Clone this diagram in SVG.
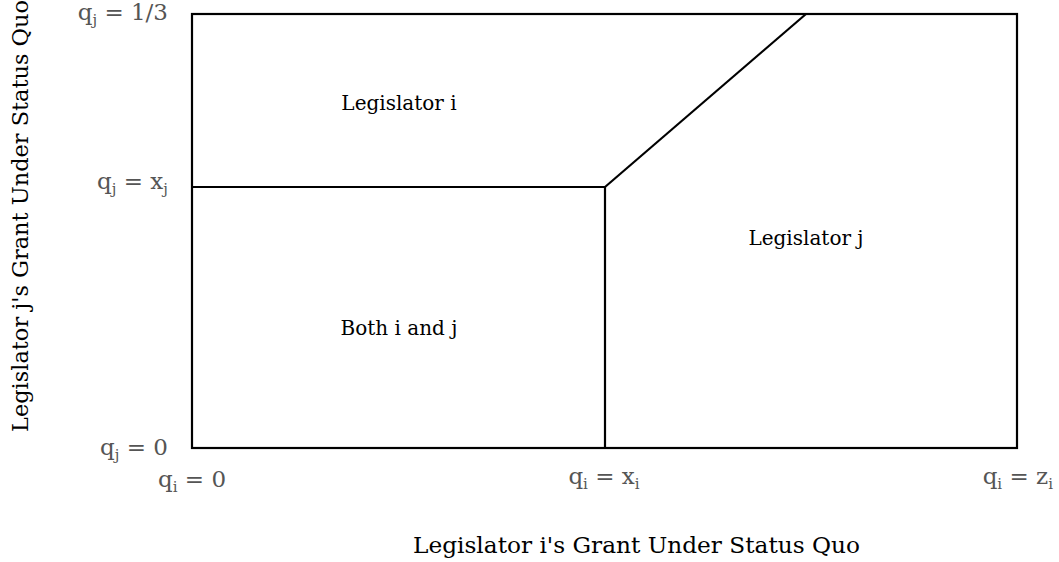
<svg xmlns="http://www.w3.org/2000/svg" width="1059" height="562" viewBox="0 0 1059 562">
<style>
.tick{font-family:"DejaVu Serif","Liberation Serif",serif;font-size:23px;fill:#555}
.sub{font-size:15px}
.reg{font-family:"DejaVu Serif","Liberation Serif",serif;font-size:20px;fill:#000}
.ax{font-family:"DejaVu Serif","Liberation Serif",serif;font-size:22px;fill:#000}
.ln{stroke:#000;stroke-width:2.2;fill:none}
</style>
<rect width="1059" height="562" fill="#fff"/>
<g id="connectors">
<rect class="ln" x="192" y="14" width="825" height="434"/>
<line class="ln" x1="192" y1="187" x2="605" y2="187"/>
<line class="ln" x1="605" y1="187" x2="605" y2="448"/>
<line class="ln" x1="605" y1="187" x2="806" y2="14"/>
</g>
<g id="ticks-y">
<text class="tick" x="168" y="20" text-anchor="end">q<tspan class="sub" dy="5">j</tspan><tspan dy="-5"> = 1/3</tspan></text>
<text class="tick" x="168" y="189" text-anchor="end">q<tspan class="sub" dy="5">j</tspan><tspan dy="-5"> = x</tspan><tspan class="sub" dy="5">j</tspan></text>
<text class="tick" x="168" y="455" text-anchor="end">q<tspan class="sub" dy="5">j</tspan><tspan dy="-5"> = 0</tspan></text>
</g>
<g id="ticks-x">
<text class="tick" x="158" y="487">q<tspan class="sub" dy="5">i</tspan><tspan dy="-5"> = 0</tspan></text>
<text class="tick" x="604" y="484" text-anchor="middle">q<tspan class="sub" dy="5">i</tspan><tspan dy="-5"> = x</tspan><tspan class="sub" dy="5">i</tspan></text>
<text class="tick" x="1053" y="484" text-anchor="end">q<tspan class="sub" dy="5">i</tspan><tspan dy="-5"> = z</tspan><tspan class="sub" dy="5">i</tspan></text>
</g>
<g id="region-i"><text class="reg" x="399" y="110" text-anchor="middle">Legislator i</text></g>
<g id="region-j"><text class="reg" x="806" y="245" text-anchor="middle">Legislator j</text></g>
<g id="region-both"><text class="reg" x="399" y="335" text-anchor="middle">Both i and j</text></g>
<g id="axis-x"><text class="ax" x="413" y="553" textLength="447" lengthAdjust="spacingAndGlyphs">Legislator i's Grant Under Status Quo</text></g>
<g id="axis-y"><text class="ax" transform="translate(28,216) rotate(-90)" text-anchor="middle" textLength="432" lengthAdjust="spacingAndGlyphs">Legislator j's Grant Under Status Quo</text></g>
</svg>
